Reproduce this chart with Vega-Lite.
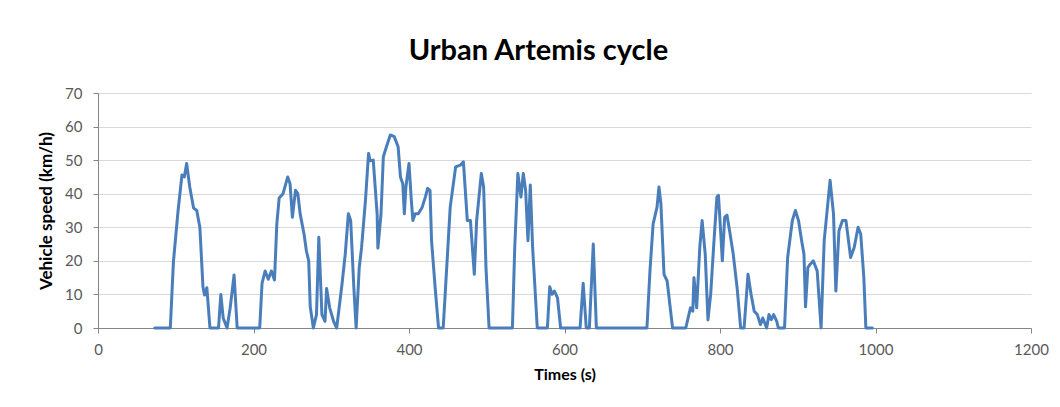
{
  "$schema": "https://vega.github.io/schema/vega-lite/v6.json",
  "width": 933,
  "height": 235,
  "autosize": {"type": "none"},
  "padding": {"left": 98, "top": 93, "right": 29, "bottom": 79},
  "background": "white",
  "title": {
    "text": "Urban Artemis cycle",
    "font": "Lato",
    "fontSize": 29,
    "fontWeight": "bold",
    "color": "#000000",
    "anchor": "middle",
    "dx": -26,
    "offset": 20
  },
  "config": {
    "view": {"stroke": null},
    "axis": {
      "labelFont": "Lato",
      "titleFont": "Lato",
      "labelColor": "#595959",
      "labelFontSize": 15,
      "titleColor": "#000000",
      "titleFontWeight": "bold",
      "domainColor": "#868686",
      "tickColor": "#868686",
      "tickSize": 5,
      "gridColor": "#d9d9d9"
    }
  },
  "data": {
    "values": [
      {"t": 73, "v": 0}, {"t": 93, "v": 0}, {"t": 97, "v": 19.7}, {"t": 103, "v": 35},
      {"t": 108, "v": 45.6}, {"t": 111, "v": 45}, {"t": 114, "v": 49}, {"t": 118, "v": 42},
      {"t": 123, "v": 35.7}, {"t": 127, "v": 35}, {"t": 131, "v": 30}, {"t": 135, "v": 12.3},
      {"t": 137, "v": 9.8}, {"t": 140, "v": 12}, {"t": 144, "v": 0}, {"t": 155, "v": 0},
      {"t": 158, "v": 10}, {"t": 161, "v": 3}, {"t": 166, "v": 0}, {"t": 170, "v": 6},
      {"t": 175, "v": 15.8}, {"t": 179, "v": 0}, {"t": 208, "v": 0}, {"t": 211, "v": 13.4},
      {"t": 215, "v": 17}, {"t": 219, "v": 14.5}, {"t": 223, "v": 17}, {"t": 227, "v": 14.3},
      {"t": 230, "v": 31}, {"t": 233, "v": 38.7}, {"t": 238, "v": 40}, {"t": 244, "v": 45},
      {"t": 247, "v": 43}, {"t": 250, "v": 33}, {"t": 254, "v": 41}, {"t": 257, "v": 40},
      {"t": 260, "v": 34}, {"t": 265, "v": 28}, {"t": 268, "v": 23}, {"t": 271, "v": 20},
      {"t": 273, "v": 6.3}, {"t": 277, "v": 0}, {"t": 281, "v": 4}, {"t": 284, "v": 27},
      {"t": 288, "v": 4}, {"t": 292, "v": 2}, {"t": 294, "v": 11.8}, {"t": 298, "v": 6},
      {"t": 303, "v": 2}, {"t": 307, "v": 0}, {"t": 314, "v": 13.4}, {"t": 318, "v": 22},
      {"t": 322, "v": 34}, {"t": 325, "v": 32}, {"t": 329, "v": 12.3}, {"t": 332, "v": 0},
      {"t": 336, "v": 18}, {"t": 339, "v": 24}, {"t": 344, "v": 38}, {"t": 348, "v": 52},
      {"t": 350, "v": 49.8}, {"t": 354, "v": 50}, {"t": 359, "v": 34}, {"t": 360, "v": 23.8},
      {"t": 364, "v": 34}, {"t": 367, "v": 51}, {"t": 371, "v": 54}, {"t": 376, "v": 57.5},
      {"t": 381, "v": 57}, {"t": 386, "v": 54}, {"t": 389, "v": 45}, {"t": 392, "v": 43},
      {"t": 394, "v": 34}, {"t": 396, "v": 42}, {"t": 400, "v": 49}, {"t": 403, "v": 38},
      {"t": 405, "v": 32}, {"t": 408, "v": 34}, {"t": 412, "v": 34}, {"t": 417, "v": 36},
      {"t": 421, "v": 39}, {"t": 424, "v": 41.6}, {"t": 427, "v": 41}, {"t": 429, "v": 26},
      {"t": 434, "v": 11}, {"t": 438, "v": 0}, {"t": 444, "v": 0}, {"t": 449, "v": 20},
      {"t": 453, "v": 36}, {"t": 460, "v": 48}, {"t": 466, "v": 48.5}, {"t": 470, "v": 49.5},
      {"t": 475, "v": 32}, {"t": 479, "v": 32}, {"t": 484, "v": 16}, {"t": 487, "v": 32},
      {"t": 493, "v": 46}, {"t": 496, "v": 42}, {"t": 499, "v": 18}, {"t": 503, "v": 0},
      {"t": 533, "v": 0}, {"t": 536, "v": 24}, {"t": 540, "v": 46}, {"t": 544, "v": 39},
      {"t": 547, "v": 46}, {"t": 550, "v": 41}, {"t": 553, "v": 26}, {"t": 556, "v": 42.6},
      {"t": 559, "v": 24}, {"t": 565, "v": 0}, {"t": 578, "v": 0}, {"t": 581, "v": 12.3},
      {"t": 584, "v": 10}, {"t": 587, "v": 11}, {"t": 591, "v": 9}, {"t": 595, "v": 0},
      {"t": 620, "v": 0}, {"t": 624, "v": 13.3}, {"t": 628, "v": 0}, {"t": 632, "v": 0},
      {"t": 637, "v": 25}, {"t": 641, "v": 0}, {"t": 706, "v": 0}, {"t": 710, "v": 17.3},
      {"t": 714, "v": 31}, {"t": 719, "v": 36}, {"t": 721.5, "v": 42}, {"t": 724, "v": 37},
      {"t": 728, "v": 16}, {"t": 732, "v": 14}, {"t": 739, "v": 0}, {"t": 756, "v": 0},
      {"t": 759, "v": 3}, {"t": 762, "v": 6}, {"t": 765, "v": 5}, {"t": 766.5, "v": 15},
      {"t": 770, "v": 6}, {"t": 774, "v": 24}, {"t": 777, "v": 32}, {"t": 781, "v": 22},
      {"t": 784.5, "v": 2.4}, {"t": 788, "v": 10}, {"t": 792, "v": 25}, {"t": 796, "v": 39},
      {"t": 798, "v": 39.5}, {"t": 800, "v": 32}, {"t": 803, "v": 20}, {"t": 806, "v": 33},
      {"t": 809, "v": 33.6}, {"t": 813, "v": 28}, {"t": 817, "v": 22}, {"t": 822, "v": 12},
      {"t": 826.6, "v": 0}, {"t": 831, "v": 0}, {"t": 836, "v": 16}, {"t": 840, "v": 10},
      {"t": 844, "v": 5}, {"t": 848, "v": 4}, {"t": 852, "v": 1}, {"t": 855, "v": 3},
      {"t": 860, "v": 0}, {"t": 863, "v": 4}, {"t": 866, "v": 2.5}, {"t": 869, "v": 4},
      {"t": 873, "v": 2}, {"t": 875, "v": 0}, {"t": 883, "v": 0}, {"t": 887, "v": 21},
      {"t": 893, "v": 32}, {"t": 897, "v": 35}, {"t": 901, "v": 32}, {"t": 905, "v": 26},
      {"t": 908, "v": 22}, {"t": 910, "v": 6.3}, {"t": 913, "v": 18}, {"t": 916, "v": 19},
      {"t": 920, "v": 20}, {"t": 925, "v": 17}, {"t": 930, "v": 0}, {"t": 934, "v": 26},
      {"t": 941.6, "v": 44}, {"t": 946, "v": 34}, {"t": 949, "v": 11}, {"t": 953, "v": 29},
      {"t": 957.5, "v": 32}, {"t": 962, "v": 32}, {"t": 968, "v": 21}, {"t": 972.6, "v": 24},
      {"t": 977.6, "v": 30}, {"t": 981, "v": 28}, {"t": 985, "v": 15}, {"t": 987.6, "v": 0},
      {"t": 996, "v": 0}
    ]
  },
  "mark": {"type": "line", "color": "#4a7ebb", "strokeWidth": 3, "strokeJoin": "round", "strokeCap": "round"},
  "encoding": {
    "x": {
      "field": "t",
      "type": "quantitative",
      "scale": {"domain": [0, 1200], "nice": false},
      "axis": {
        "title": "Times (s)",
        "titleFontSize": 16,
        "titlePadding": 9,
        "values": [0, 200, 400, 600, 800, 1000, 1200],
        "format": "d",
        "grid": false,
        "labelPadding": 9,
        "labelFlush": false
      }
    },
    "y": {
      "field": "v",
      "type": "quantitative",
      "scale": {"domain": [0, 70], "nice": false},
      "axis": {
        "title": "Vehicle speed (km/h)",
        "titleFontSize": 17,
        "titlePadding": 9,
        "values": [0, 10, 20, 30, 40, 50, 60, 70],
        "grid": true,
        "labelPadding": 11
      }
    }
  }
}
